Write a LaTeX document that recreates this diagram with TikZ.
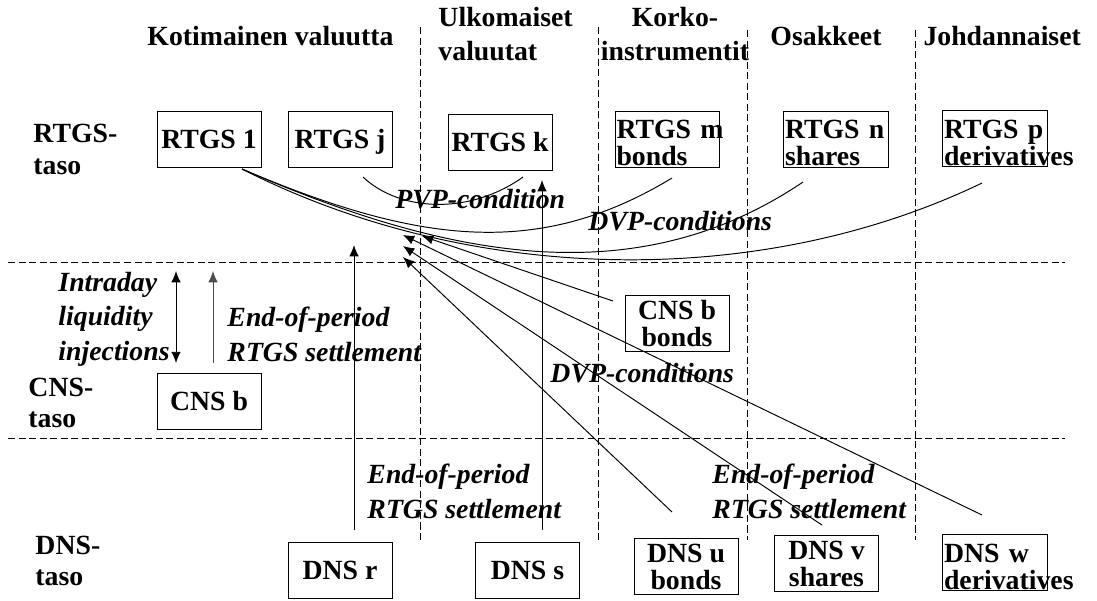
\documentclass[tikz,border=0pt]{standalone}
\usepackage{fontspec}
\setmainfont{Liberation Serif}
\usepackage{tikz}
\usetikzlibrary{arrows.meta}

\begin{document}
\begin{tikzpicture}[>={Latex[length=6.4pt,width=5.4pt]}, x=0.02cm, y=-0.02cm, line width=0.55pt,
		every node/.style={inner sep=0pt, font=\bfseries\fontsize{15.8}{18.8}\selectfont},
		hdr/.style={anchor=base west, align=left},
		ital/.style={anchor=base west, align=left, font=\bfseries\itshape\fontsize{15.8}{19.4}\selectfont},
		bx/.style={draw, minimum width=2.08cm, minimum height=1.12cm, inner sep=0.6pt,
			align=center, font=\bfseries\fontsize{15.8}{15.4}\selectfont},
		bxs/.style={bx, text height=10.8pt, text depth=0pt},
		bxl/.style={bx, text width=2.04cm, align=left, execute at begin node={\rule{0pt}{15pt}}},
		sepline/.style={dash pattern=on 4pt off 2pt, line width=0.45pt}]
		% 0. Frame of the page (pixel units, y downwards)
		\useasboundingbox (0,0) rectangle (1097,600);

		% 1. Dashed separators
		% Columns
		\draw[sepline] (420,27) -- (420,540);
		\draw[sepline] (598,27) -- (598,540);
		\draw[sepline] (747,30) -- (747,540);
		\draw[sepline] (915,30) -- (915,540);
		% Levels
		\draw[sepline] (8,262) -- (1065,262);
		\draw[sepline] (8,438) -- (1065,438);

		% 2. Column headings (multi-line nodes sit on their last baseline)
		\node[hdr] (kotim) at (147,45) {Kotimainen valuutta};
		\node[hdr] (ulkom) at (438,60) {Ulkomaiset\\valuutat};
		\node[anchor=base, align=center] (korko) at (675,60) {Korko-\\instrumentit};
		\node[hdr] (osakk) at (770,45) {Osakkeet};
		\node[hdr] (johd) at (923,45) {Johdannaiset};

		% 3. Level labels
		\node[hdr] (lvlr) at (33,174) {RTGS-\\[-0.6pt]taso};
		\node[hdr] (lvlc) at (28,427) {CNS-\\[-1.7pt]taso};
		\node[hdr] (lvld) at (35,585) {DNS-\\[-1.7pt]taso};

		% 4. Boxes
		% RTGS level
		\node[bxs] (rtgsa) at (209,139) {RTGS 1};
		\node[bxs] (rtgsj) at (340,139) {RTGS j};
		\node[bxs] (rtgsk) at (500,142.5) {RTGS k};
		\node[bxl] (rtgsm) at (667.5,139) {\mbox{RTGS m}\\bonds};
		\node[bxl] (rtgsn) at (836,139) {\mbox{RTGS n}\\shares};
		\node[bxl] (rtgsp) at (995,138.5) {\mbox{RTGS p}\\\mbox{derivatives}};
		% CNS level
		\node[bxs] (cnsb) at (209,401) {CNS b};
		\node[bx] (cnsbb) at (677,323.5) {CNS b\\bonds};
		% DNS level
		\node[bxs] (dnsr) at (340,570) {DNS r};
		\node[bxs] (dnss) at (527.5,570) {DNS s};
		\node[bx] (dnsu) at (686,566.5) {DNS u\\bonds};
		\node[bx] (dnsv) at (826.5,563.5) {DNS v\\shares};
		\node[bxl] (dnsw) at (995,562.5) {\mbox{DNS w}\\\mbox{derivatives}};

		% 5. Annotations
		\node[ital] (pvp) at (395,208) {PVP-condition};
		\node[ital] (dvpa) at (588,230) {DVP-conditions};
		\node[ital] (dvpb) at (550,382) {DVP-conditions};
		\node[ital] (intra) at (58,360) {Intraday\\liquidity\\injections};
		\node[ital] (eopc) at (227,361) {End-of-period\\RTGS settlement};
		\node[ital] (eopr) at (367,518) {End-of-period\\RTGS settlement};
		\node[ital] (eopw) at (712,518) {End-of-period\\RTGS settlement};

		% 6. PVP and DVP links on the RTGS level
		\coordinate (pvpj) at (363,177);
		\coordinate (pvpk) at (523,177);
		\draw (pvpj) .. controls (400,212) and (470,215) .. (pvpk);
		\coordinate (dvp0) at (242,169);
		\coordinate (dvpm) at (672,178);
		\coordinate (dvpn) at (803,182);
		\coordinate (dvpp) at (982,183);
		\draw (dvp0) .. controls (420,245) and (540,258) .. (dvpm);
		\draw (dvp0) .. controls (455,262) and (640,292) .. (dvpn);
		\draw (dvp0) .. controls (470,285) and (760,290) .. (dvpp);

		% 7. Settlement arrows
		\coordinate (injt) at (176,271);
		\coordinate (injb) at (176,363);
		\draw[<->] (injb) -- (injt);
		\coordinate (eopt) at (213,271);
		\coordinate (eopb) at (213,363);
		\draw[->, black!70] (eopb) -- (eopt);
		\coordinate (rtop) at (354,245);
		\coordinate (rbot) at (354,530);
		\draw[->] (rbot) -- (rtop);
		\coordinate (stop) at (542,180);
		\coordinate (sbot) at (542,530);
		\draw[->] (sbot) -- (stop);

		% 8. DVP arrows from CNS and DNS level
		\coordinate (tipw) at (403,235);
		\coordinate (tipc) at (422,236);
		\coordinate (tipv) at (403,246);
		\coordinate (tipu) at (403,257);
		\coordinate (srcw) at (982,515);
		\coordinate (srcc) at (613,301);
		\coordinate (srcv) at (822,525);
		\coordinate (srcu) at (672,512);
		\draw[->] (srcw) -- (tipw);
		\draw[->] (srcc) -- (tipc);
		\draw[->] (srcv) -- (tipv);
		\draw[->] (srcu) -- (tipu);
	\end{tikzpicture}
\end{document}
